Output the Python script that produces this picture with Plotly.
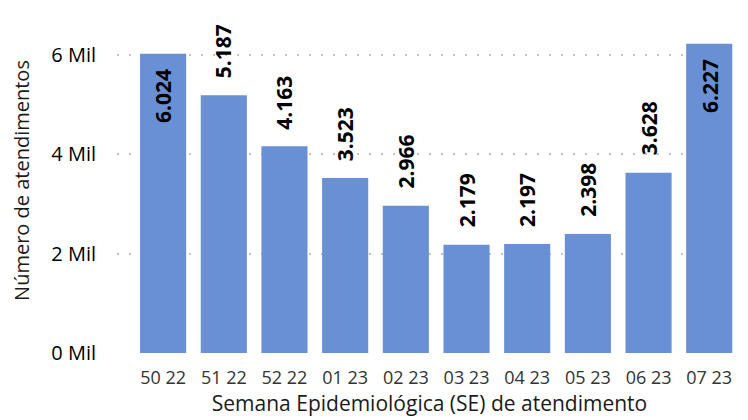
import plotly.graph_objects as go

categories = ["50 22", "51 22", "52 22", "01 23", "02 23", "03 23", "04 23", "05 23", "06 23", "07 23"]
values = [6024, 5187, 4163, 3523, 2966, 2179, 2197, 2398, 3628, 6227]
inside_labels = [True, False, False, False, False, False, False, False, False, True]
y_tickvals = [0, 2000, 4000, 6000]
y_ticktext = ["0 Mil", "2 Mil", "4 Mil", "6 Mil"]

FONT = "Open Sans"
BAR_COLOR = "#6990D4"

def fmt(v):
    return f"{v:,}".replace(",", ".")

fig = go.Figure()
fig.add_trace(go.Bar(
    x=list(range(len(categories))),
    y=values,
    marker=dict(color=BAR_COLOR, line=dict(width=0)),
    width=0.76,
    hoverinfo="skip",
))

for i, (v, ins) in enumerate(zip(values, inside_labels)):
    fig.add_annotation(
        x=i, y=v, xref="x", yref="y",
        text="<b>" + fmt(v) + "</b>",
        textangle=-90,
        showarrow=False,
        xanchor="center",
        yanchor="top" if ins else "bottom",
        yshift=-13 if ins else 15,
        font=dict(family=FONT, size=21, color="#000000"),
    )

fig.update_layout(
    width=748, height=420,
    margin=dict(l=109, r=14, t=0, b=75),
    paper_bgcolor="white",
    plot_bgcolor="white",
    showlegend=False,
    font=dict(family=FONT, size=18, color="#1a1a1a"),
    xaxis=dict(
        range=[-0.76, 9.54],
        tickvals=list(range(len(categories))),
        ticktext=categories,
        ticks="outside", ticklen=8, tickcolor="white",
        showgrid=False, zeroline=False, showline=False,
        tickfont=dict(family=FONT, size=18, color="#333333"),
        title=dict(text="Semana Epidemiológica (SE) de atendimento",
                   font=dict(family=FONT, size=21, color="#1a1a1a"), standoff=2),
    ),
    yaxis=dict(
        range=[0, 6946],
        tickvals=y_tickvals,
        ticktext=y_ticktext,
        ticks="outside", ticklen=16, tickcolor="white",
        showgrid=True, gridcolor="#C4C4C4", griddash="2px,10px", gridwidth=2,
        zeroline=False, showline=False,
        tickfont=dict(family=FONT, size=20, color="#000000"),
        title=dict(text="Número de atendimentos",
                   font=dict(family=FONT, size=20, color="#1a1a1a"), standoff=16),
    ),
)

fig.write_html("out.html")
